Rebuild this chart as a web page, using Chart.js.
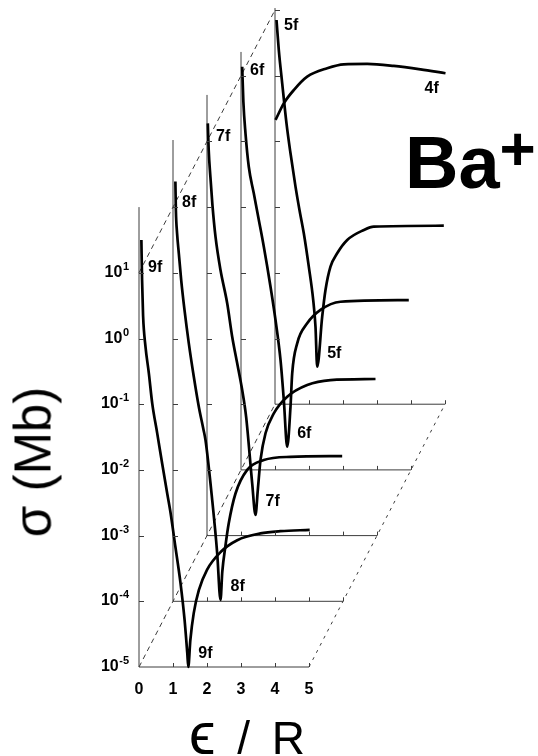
<!DOCTYPE html>
<html><head><meta charset="utf-8">
<script src="https://cdn.jsdelivr.net/npm/chart.js@4.4.1/dist/chart.umd.min.js"></script>
<style>
html,body{margin:0;padding:0;background:#fff;}
#wrap{position:relative;width:538px;height:756px;overflow:hidden;background:#fff;}
#c{position:absolute;left:0;top:0;}
.ttl{position:absolute;font-family:"Liberation Sans",Arial,Helvetica,sans-serif;color:#000;white-space:nowrap;line-height:1;}
#ytitle{left:33px;top:462px;font-size:51px;transform:translate(-50%,-50%) rotate(-90deg);}
#xtitle{left:247px;top:734px;font-size:46px;word-spacing:9px;transform:translate(-50%,-50%);}
#xtitle .eps{font-size:60px;}
#ion{left:405px;top:126px;font-size:74px;font-weight:bold;}
#ion .plus{font-size:62px;position:relative;top:-18px;}
</style></head><body>
<div id="wrap">
<canvas id="c" width="538" height="756"></canvas>
<div class="ttl" id="ytitle">σ (Mb)</div>
<div class="ttl" id="xtitle"><span class="eps">ϵ</span> / R</div>
<div class="ttl" id="ion">Ba<span class="plus">+</span></div>
</div>
<script>
// ---- data (each curve in its own panel: photon energy ε/R, cross section σ in Mb) ----
const xTickValues = [0, 1, 2, 3, 4, 5];
const yTickValues = [1e-5, 1e-4, 1e-3, 1e-2, 1e-1, 1e0, 1e1];

const energy9f = [0.07, 0.09, 0.12, 0.19, 0.29, 0.39, 0.535, 0.68, 0.83, 0.93, 1.07, 1.22, 1.34, 1.42, 1.45, 1.51, 1.61, 1.76, 2.0, 2.4, 2.89, 3.57, 4.16, 5.02];
const sigma9f  = [31.6, 7.94, 2.24, 0.759, 0.295, 0.102, 0.0363, 0.0126, 0.00437, 0.00219, 6.76e-4, 1.91e-4, 5.25e-5, 1.62e-5, 1.0e-5, 2.57e-5, 6.61e-5, 1.48e-4, 3.02e-4, 5.62e-4, 8.51e-4, 1.08e-3, 1.17e-3, 1.22e-3];

const energy8f = [0.07, 0.085, 0.12, 0.171, 0.241, 0.338, 0.465, 0.612, 0.759, 0.888, 0.956, 1.153, 1.3, 1.397, 1.45, 1.544, 1.641, 1.838, 2.182, 2.67, 3.456, 4.976];
const sigma8f  = [24.5, 8.91, 3.98, 1.98, 0.776, 0.272, 0.0845, 0.0262, 0.00916, 0.0043, 0.00285, 3.48e-4, 5.38e-5, 1.05e-5, 2.82e-5, 7.08e-5, 1.55e-4, 4.37e-4, 1.0e-3, 1.41e-3, 1.58e-3, 1.62e-3];

const energy7f = [0.024, 0.05, 0.1, 0.16, 0.25, 0.397, 0.594, 0.741, 0.888, 1.035, 1.15, 1.329, 1.426, 1.494, 1.574, 1.721, 1.965, 2.359, 2.947, 3.632, 4.956];
const sigma7f  = [18.8, 7.41, 2.88, 1.07, 0.355, 0.110, 0.0344, 0.01064, 0.00419, 0.00164, 6.46e-4, 6.25e-5, 2.06e-5, 4.94e-5, 1.42e-4, 3.61e-4, 7.26e-4, 1.30e-3, 1.96e-3, 2.33e-3, 2.42e-3];

const energy6f = [0.035, 0.07, 0.132, 0.229, 0.376, 0.524, 0.671, 0.868, 1.015, 1.162, 1.259, 1.359, 1.456, 1.506, 1.653, 1.947, 2.338, 2.926, 4.935];
const sigma6f  = [13.7, 3.98, 1.33, 0.412, 0.162, 0.0637, 0.0249, 0.00615, 0.00191, 4.71e-4, 1.16e-4, 2.25e-5, 9.16e-5, 2.95e-4, 8.45e-4, 1.70e-3, 2.72e-3, 3.63e-3, 3.85e-3];

const energy5f = [0.044, 0.112, 0.212, 0.338, 0.456, 0.603, 0.72, 0.847, 0.994, 1.124, 1.191, 1.241, 1.388, 1.485, 1.632, 1.829, 2.124, 2.612, 2.906, 4.965];
const sigma5f  = [7.05, 2.46, 0.766, 0.188, 0.0659, 0.0205, 0.00904, 0.00399, 0.00124, 3.85e-4, 1.51e-4, 3.72e-5, 2.15e-4, 5.47e-4, 1.24e-3, 1.98e-3, 3.16e-3, 4.48e-3, 5.04e-3, 5.21e-3];

const energy4f = [0.015, 0.259, 0.553, 0.947, 1.535, 2.024, 2.712, 3.494, 4.279, 5.015];
const sigma4f  = [0.212, 0.380, 0.605, 0.966, 1.30, 1.49, 1.51, 1.41, 1.25, 1.09];

// height of each panel's σ axis (σ in Mb), front panel first
const panelAxisTop = [100, 105, 51, 23, 10.7];

const curves = [
  {name: '9f', panel: 0, x: energy9f, y: sigma9f, topLabel: true},
  {name: '8f', panel: 1, x: energy8f, y: sigma8f, topLabel: true},
  {name: '7f', panel: 2, x: energy7f, y: sigma7f, topLabel: true},
  {name: '6f', panel: 3, x: energy6f, y: sigma6f, topLabel: true},
  {name: '5f', panel: 4, x: energy5f, y: sigma5f, topLabel: true},
  {name: '4f', panel: 4, x: energy4f, y: sigma4f, topLabel: false}
];

// ---- layout of the waterfall (each panel shifted by one energy unit and one decade) ----
const PANEL_DX = 1;
const PANEL_DDEC = 1;
const shiftX = k => k * PANEL_DX;
const shiftY = k => Math.pow(10, k * PANEL_DDEC);

const FONT = '"Liberation Sans", Arial, Helvetica, sans-serif';
const FRAME = '#3c3c3c';
const INK = '#000';

const datasets = [];
const nPanels = panelAxisTop.length;
const xFirst = xTickValues[0], xLast = xTickValues[xTickValues.length - 1];
const yFloor = yTickValues[0], yTop = yTickValues[yTickValues.length - 1];

for (let k = 0; k < nPanels; k++) {
  datasets.push({ data: [{x: xFirst + shiftX(k), y: yFloor * shiftY(k)}, {x: xLast + shiftX(k), y: yFloor * shiftY(k)}],
    borderColor: FRAME, borderWidth: 1, order: 5 });
  datasets.push({ data: [{x: xFirst + shiftX(k), y: yFloor * shiftY(k)}, {x: xFirst + shiftX(k), y: panelAxisTop[k] * shiftY(k)}],
    borderColor: FRAME, borderWidth: 1, order: 5 });
}
const kLast = nPanels - 1;
datasets.push({ data: [{x: xFirst, y: yFloor}, {x: xFirst + shiftX(kLast), y: yFloor * shiftY(kLast)}],
  borderColor: FRAME, borderWidth: 1, borderDash: [5, 4], order: 5 });
datasets.push({ data: [{x: xLast, y: yFloor}, {x: xLast + shiftX(kLast), y: yFloor * shiftY(kLast)}],
  borderColor: FRAME, borderWidth: 1, borderDash: [3, 5], order: 5 });
datasets.push({ data: [{x: xFirst, y: yTop}, {x: xFirst + shiftX(kLast), y: yTop * shiftY(kLast)}],
  borderColor: FRAME, borderWidth: 1, borderDash: [5, 4], order: 5 });

curves.forEach(c => {
  datasets.push({
    label: c.name,
    data: c.x.map((e, i) => ({x: e + shiftX(c.panel), y: c.y[i] * shiftY(c.panel)})),
    borderColor: INK, borderWidth: 2.7, cubicInterpolationMode: 'monotone', order: 1
  });
});

const exponentOf = v => String(Math.round(Math.log10(v)));

const annotate = {
  id: 'annotate',
  afterDatasetsDraw(chart) {
    const {ctx, chartArea} = chart;
    const xs = chart.scales.x, ys = chart.scales.y;
    ctx.save();
    // tick marks on every panel
    ctx.strokeStyle = FRAME;
    ctx.lineWidth = 1;
    for (let k = 0; k < nPanels; k++) {
      const ax = xs.getPixelForValue(xFirst + shiftX(k));
      yTickValues.slice(1).forEach(v => {
        const py = Math.round(ys.getPixelForValue(v * shiftY(k))) + 0.5;
        ctx.beginPath(); ctx.moveTo(ax, py); ctx.lineTo(ax + 5, py); ctx.stroke();
      });
      const by = ys.getPixelForValue(yFloor * shiftY(k));
      xTickValues.slice(1).forEach(v => {
        const px = Math.round(xs.getPixelForValue(v + shiftX(k))) + 0.5;
        ctx.beginPath(); ctx.moveTo(px, by); ctx.lineTo(px, by - 4); ctx.stroke();
      });
    }
    // power-of-ten tick labels of the front panel
    ctx.fillStyle = INK;
    ctx.textAlign = 'right';
    ctx.textBaseline = 'alphabetic';
    const right = chartArea.left - 10;
    yTickValues.forEach(v => {
      const py = ys.getPixelForValue(v);
      const e = exponentOf(v);
      ctx.font = 'bold 11px ' + FONT;
      const ew = ctx.measureText(e).width;
      ctx.fillText(e, right, py - 3);
      ctx.font = 'bold 16px ' + FONT;
      ctx.fillText('10', right - ew - 0.5, py + 4);
    });
    // curve labels
    ctx.font = 'bold 16px ' + FONT;
    ctx.textBaseline = 'middle';
    ctx.textAlign = 'left';
    curves.forEach(c => {
      if (c.topLabel) {
        const tx = xs.getPixelForValue(xFirst + shiftX(c.panel)) + 9;
        let ty = ys.getPixelForValue(yTop * shiftY(c.panel)) - 5;
        ty = Math.max(ty, chartArea.top + 24);
        ctx.fillText(c.name, tx, ty);
        let iMin = 0;
        c.y.forEach((v, i) => { if (v < c.y[iMin]) iMin = i; });
        const dx = xs.getPixelForValue(c.x[iMin] + shiftX(c.panel));
        const dy = ys.getPixelForValue(c.y[iMin] * shiftY(c.panel));
        ctx.fillText(c.name, dx + 10, dy - 13);
      } else {
        const n = c.x.length - 1;
        const ex = xs.getPixelForValue(c.x[n] + shiftX(c.panel));
        const ey = ys.getPixelForValue(c.y[n] * shiftY(c.panel));
        ctx.fillText(c.name, ex - 21, ey + 15);
      }
    });
    ctx.restore();
  }
};

new Chart(document.getElementById('c'), {
  type: 'line',
  data: { datasets },
  options: {
    responsive: false,
    animation: false,
    events: [],
    layout: { padding: { top: 2, right: 76, bottom: 0, left: 0 } },
    elements: { point: { radius: 0 }, line: { fill: false, tension: 0 } },
    datasets: { line: { clip: false, pointRadius: 0 } },
    plugins: { legend: { display: false }, tooltip: { enabled: false }, title: { display: false } },
    scales: {
      x: {
        type: 'linear', min: 0, max: 9.5, bounds: 'data',
        grid: { display: false }, border: { display: false },
        afterBuildTicks: ax => { ax.ticks = xTickValues.map(v => ({value: v})); },
        afterFit: ax => { ax.height = 89; ax.paddingLeft = 0; ax.paddingRight = 0; },
        ticks: { color: INK, padding: 5, autoSkip: false, maxRotation: 0, font: { family: FONT, size: 16, weight: 'bold' } }
      },
      y: {
        type: 'logarithmic', min: 1e-5, max: Math.pow(10, 5.122), bounds: 'data',
        grid: { display: false }, border: { display: false },
        afterBuildTicks: ax => { ax.ticks = yTickValues.map(v => ({value: v})); },
        afterFit: ax => { ax.width = 139; ax.paddingTop = 0; ax.paddingBottom = 0; },
        ticks: { display: false }
      }
    }
  },
  plugins: [annotate]
});
</script>
</body></html>
